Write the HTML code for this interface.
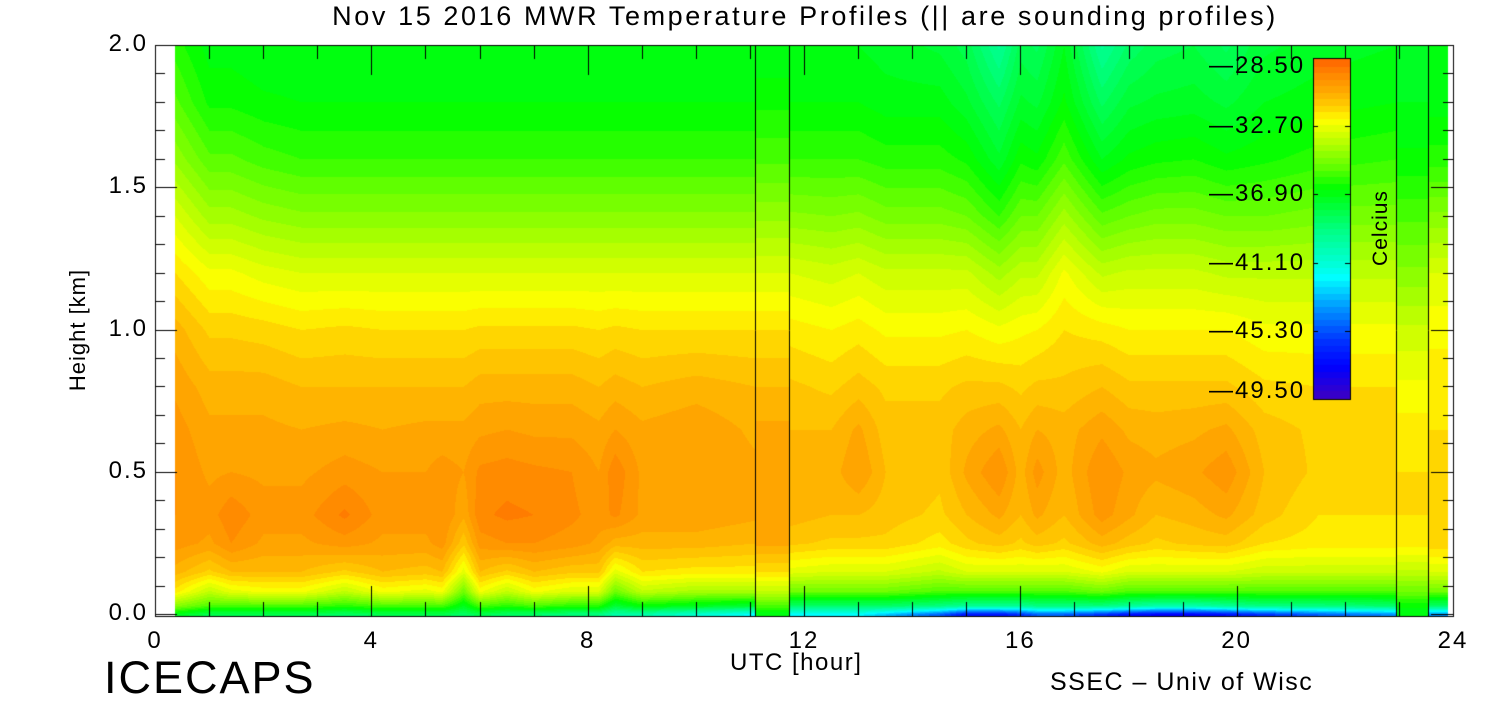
<!DOCTYPE html>
<html><head><meta charset="utf-8">
<style>
body{margin:0;background:#fff;width:1500px;height:700px;overflow:hidden;position:relative;font-family:"Liberation Sans",sans-serif}
.t{position:absolute;color:#000;white-space:nowrap}
canvas{position:absolute;left:0;top:0}
</style></head><body>
<canvas id="c" width="1500" height="700"></canvas>
<div class="t" style="left:0;width:1610px;text-align:center;top:1px;font-size:27px;letter-spacing:2.6px">Nov 15 2016 MWR Temperature Profiles (||  are sounding profiles)</div>
<div class="t" style="left:-2px;top:317px;font-size:22px;letter-spacing:1px;transform:rotate(-90deg);transform-origin:center;width:160px;text-align:center">Height [km]</div>
<div class="t" style="left:730px;top:649px;font-size:24px;letter-spacing:1.5px">UTC [hour]</div>
<div class="t" style="left:104px;top:652px;font-size:45px;letter-spacing:2px">ICECAPS</div>
<div class="t" style="left:1050px;top:668px;font-size:25px;letter-spacing:1.5px">SSEC – Univ of Wisc</div>
<div class="t" style="left:1341px;top:216px;font-size:21px;letter-spacing:1px;transform:rotate(-90deg);transform-origin:center;width:80px;text-align:center">Celcius</div>
<div id="labels"></div>
<script>
const heights=[0,0.03,0.08,0.15,0.25,0.35,0.5,0.65,0.8,1.0,1.2,1.4,1.6,1.8,2.0];
const timesL=[0.37,1.0,1.4,2.0,2.7,3.5,4.2,5.0,5.3,5.7,6.0,6.5,7.0,7.7,8.2,8.5,9.0,10.0,11.1];
const tempsL=[
[-37,-34.5,-32,-30.8,-30,-29.8,-29.8,-30,-30.3,-30.8,-31.8,-33,-34.3,-35.3,-36],
[-38,-35.5,-33.5,-31.5,-30.3,-30,-30.3,-30.5,-30.8,-31.5,-32.5,-34,-35.3,-36.3,-36.8],
[-38,-35.5,-32.8,-31,-29.8,-29.5,-30.2,-30.5,-30.8,-31.5,-32.5,-34,-35.3,-36.3,-36.8],
[-38,-35.5,-32.5,-31,-30.3,-30,-30.3,-30.5,-30.8,-31.6,-32.8,-34.3,-35.6,-36.5,-37],
[-38,-35.5,-32.5,-31,-30.3,-30,-30.3,-30.6,-31,-31.8,-33,-34.5,-35.8,-36.6,-37],
[-38.5,-36,-33.5,-31.5,-30,-29.3,-30,-30.5,-31,-31.7,-33,-34.5,-35.8,-36.6,-37],
[-38,-35.5,-32.5,-31,-30.3,-30,-30.2,-30.6,-31,-31.8,-33,-34.5,-35.8,-36.6,-37],
[-38,-35.5,-32.8,-31.2,-30.3,-30,-30.2,-30.5,-31,-31.8,-33,-34.5,-35.8,-36.6,-37],
[-38,-35.5,-32.5,-31,-30,-29.8,-30,-30.5,-31,-31.8,-33,-34.5,-35.8,-36.6,-37],
[-38.5,-37,-35,-32.8,-31.3,-30.5,-30.2,-30.5,-31,-31.8,-33,-34.5,-35.8,-36.6,-37],
[-38,-35.5,-32.5,-31,-30,-29.5,-29.7,-30.3,-30.8,-31.7,-33,-34.5,-35.8,-36.6,-37],
[-38.5,-36,-33.5,-31.5,-29.8,-29.3,-29.6,-30.2,-30.8,-31.7,-33,-34.5,-35.8,-36.6,-37],
[-38.5,-35.5,-32.5,-31,-29.8,-29.4,-29.7,-30.3,-30.8,-31.7,-33,-34.5,-35.8,-36.6,-37],
[-39,-36,-33,-31.3,-30,-29.7,-29.8,-30.3,-30.8,-31.7,-33,-34.5,-35.8,-36.6,-37],
[-39,-36,-33,-31.3,-30.3,-30,-30.2,-30.5,-31,-31.8,-33,-34.5,-35.8,-36.6,-37],
[-40,-37.5,-35,-32.8,-30.8,-29.7,-29.5,-30.2,-30.8,-31.7,-33,-34.5,-35.8,-36.6,-37],
[-40,-36.5,-33.5,-31.8,-30.8,-30.3,-30.3,-30.5,-31,-31.8,-33,-34.5,-35.8,-36.6,-37],
[-41,-37,-34,-32,-30.8,-30.3,-30.2,-30.3,-30.8,-31.8,-33,-34.5,-35.8,-36.6,-37],
[-42,-37.5,-34,-32,-31,-30.5,-30.5,-30.7,-31,-31.8,-33,-34.5,-35.8,-36.6,-37]];
const timesR=[11.73,12.5,13.0,13.5,14.5,15.0,15.6,16.0,16.3,16.8,17.5,18.0,18.5,19.2,19.8,20.5,21.5,22.95];
const tempsR=[
[-42,-38.5,-35,-32.8,-31.3,-30.8,-30.8,-31,-31.3,-32,-33,-34.5,-35.8,-36.6,-37],
[-42,-38.5,-35,-33,-31.5,-31,-30.8,-31,-31.5,-32.2,-33.2,-34.6,-35.8,-36.6,-37],
[-42,-38.5,-35,-33,-31.5,-31,-30.2,-30.5,-31.2,-32,-33,-34.5,-35.8,-36.6,-37],
[-43,-38.5,-35,-33,-31.5,-31.2,-31,-31.2,-31.5,-32.3,-33.3,-34.8,-36,-36.8,-37.2],
[-45,-39,-35.5,-33.5,-32,-31.5,-31.3,-31.2,-31.5,-32.3,-33.3,-34.8,-36,-36.8,-37.5],
[-47,-39.5,-35.5,-33,-31.5,-31,-30.5,-30.8,-31.3,-32.2,-33.3,-35,-36.3,-37.3,-38],
[-47,-39.5,-35.5,-33,-31.2,-30.5,-29.8,-30.5,-31.3,-32.5,-34,-35.8,-37.3,-38.3,-39.5],
[-46,-39.5,-35.5,-33,-31.5,-31,-30.8,-31,-31.5,-32.3,-33.5,-35,-36.3,-37.3,-38],
[-45,-39,-35.5,-33,-31.2,-30.5,-30,-30.6,-31.3,-32.2,-33.5,-35,-36.5,-37.5,-38.3],
[-45,-39,-35.5,-33,-31.5,-31,-30.8,-30.8,-31.3,-31.8,-32.5,-34,-35.5,-36.5,-37],
[-46,-39,-35,-32.5,-30.8,-30,-29.8,-30.3,-31,-32,-33.5,-35.3,-37,-38.3,-39.5],
[-47,-39.5,-35.5,-33,-31.2,-30.5,-30.3,-30.7,-31.3,-32.2,-33.3,-35,-36.5,-37.5,-38.5],
[-47.5,-40,-35.5,-33,-31.5,-31,-30.5,-30.8,-31.3,-32.2,-33.3,-34.8,-36.3,-37.3,-38],
[-47.5,-40,-35.5,-33,-31.3,-30.8,-30.3,-30.7,-31.3,-32.2,-33.3,-34.8,-36.2,-37.2,-37.8],
[-47,-39.5,-35.5,-33,-31.2,-30.5,-29.9,-30.5,-31.3,-32.2,-33.5,-35,-36.5,-37.5,-38.3],
[-46,-39,-35.5,-33.3,-31.8,-31.2,-31,-31.2,-31.7,-32.5,-33.5,-35,-36.3,-37,-37.5],
[-45,-39,-35.5,-33.3,-32,-31.8,-31.5,-31.5,-31.8,-32.5,-33.5,-34.8,-36,-36.8,-37.2],
[-44,-38.5,-35.5,-33.3,-32,-31.8,-31.5,-31.5,-31.8,-32.5,-33.5,-34.8,-35.8,-36.6,-37]];
const sounding1=[-37,-35.5,-33.5,-31.8,-30.5,-30.3,-30.3,-30.5,-31,-31.8,-33,-34.3,-35.5,-36.3,-37];
const sounding1Span=[11.1,11.73];
const sounding2=[-37,-36.5,-35,-33.5,-32,-31.8,-31.8,-32,-32.5,-33.3,-34.5,-35.5,-36.5,-37,-37.3];
const sounding2Span=[22.95,23.54];
const lastProfile=[-44,-38.5,-35,-33,-31.5,-31.5,-31.5,-31.8,-32,-32.3,-33,-34.5,-36,-36.8,-37];
const lastSpan=[23.54,23.9];
const yTicks=["0.0","0.5","1.0","1.5","2.0"];
const xTicks=["0","4","8","12","16","20","24"];
const cbTicks=["-28.50","-32.70","-36.90","-41.10","-45.30","-49.50"];

const X0=155,X1=1453,Y0=45,Y1=616;
const xs=h=>X0+h/24*(X1-X0);
const ys=k=>614-k*284.5;
const stops=[[-28.5,255,96,0],[-29.5,255,136,0],[-30.5,255,168,0],[-31.5,255,208,0],[-32.3,255,255,0],[-33.8,176,255,0],[-35.2,96,255,0],[-36.5,0,255,0],[-39,0,255,128],[-41,0,255,208],[-42,0,255,255],[-44,0,144,255],[-46,0,48,255],[-47.5,0,0,255],[-49.5,64,0,192]];
function col(t){t=Math.round(t*2.5)/2.5;
 if(t>=stops[0][0])return stops[0].slice(1);
 for(let i=1;i<stops.length;i++){if(t>=stops[i][0]){const a=stops[i-1],b=stops[i],f=(t-b[0])/(a[0]-b[0]);return [b[1]+(a[1]-b[1])*f,b[2]+(a[2]-b[2])*f,b[3]+(a[3]-b[3])*f];}}
 return stops[stops.length-1].slice(1);}
function prof(p,k){if(k<=0)return p[0];for(let i=1;i<heights.length;i++){if(k<=heights[i]){const f=(k-heights[i-1])/(heights[i]-heights[i-1]);return p[i-1]+(p[i]-p[i-1])*f;}}return p[p.length-1];}
const c=document.getElementById('c'),g=c.getContext('2d');
const img=g.createImageData(1500,700),d=img.data;
function put(x,y,rgb){const o=(y*1500+x)*4;d[o]=rgb[0];d[o+1]=rgb[1];d[o+2]=rgb[2];d[o+3]=255;}
function seg(times,temps){for(let x=Math.round(xs(times[0]));x<Math.round(xs(times[times.length-1]));x++){const h=(x-X0)/(X1-X0)*24;let j=0;while(j<times.length-2&&h>times[j+1])j++;const f=Math.min(1,Math.max(0,(h-times[j])/(times[j+1]-times[j])));
 for(let y=Y0;y<Y1;y++){const k=(614-y)/284.5;put(x,y,col(prof(temps[j],k)*(1-f)+prof(temps[j+1],k)*f));}}}
function strip(span,p){for(let x=Math.round(xs(span[0]));x<Math.round(xs(span[1]));x++)for(let y=Y0;y<Y1;y++)put(x,y,col(prof(p,(614-y)/284.5)));}
seg(timesL,tempsL);seg(timesR,tempsR);strip(sounding1Span,sounding1);strip(sounding2Span,sounding2);strip(lastSpan,lastProfile);
for(let y=58;y<399;y++){const t=-28.5-(y-58)/341*21;for(let x=1313;x<1350;x++)put(x,y,col(t));}
g.putImageData(img,0,0);
g.strokeStyle='#000';g.lineWidth=1;
g.strokeRect(X0+0.5,Y0+0.5,X1-X0,Y1-Y0);
g.strokeRect(1313.5,58.5,37,341);
[sounding1Span[0],sounding1Span[1],sounding2Span[0],sounding2Span[1]].forEach(h=>{const x=Math.round(xs(h))+0.5;g.beginPath();g.moveTo(x,Y0);g.lineTo(x,Y1);g.stroke();});
g.beginPath();
for(let h=0;h<=24;h++){const x=Math.round(xs(h))+0.5,L=h%4==0?30:14;g.moveTo(x,Y1);g.lineTo(x,Y1-L);g.moveTo(x,Y0);g.lineTo(x,Y0+L);}
for(let i=0;i<=20;i++){const y=Math.round(ys(i/10))+0.5,L=i%5==0?22:10;g.moveTo(X0,y);g.lineTo(X0+L,y);g.moveTo(X1,y);g.lineTo(X1-L,y);}
for(let i=0;i<cbTicks.length;i++){const y=Math.round(58+i*341/5)+0.5;g.moveTo(1313,y);g.lineTo(1318,y);g.moveTo(1350,y);g.lineTo(1345,y);}
g.stroke();
const lab=document.getElementById('labels');
yTicks.forEach((s,i)=>{const e=document.createElement('div');e.className='t';


e.style.cssText=`left:96px;top:${ys(i*0.5)-15}px;font-size:24px;letter-spacing:2px;width:52px;text-align:right`;e.textContent=s;lab.appendChild(e);});
xTicks.forEach((s,i)=>{const e=document.createElement('div');e.className='t';


e.style.cssText=`left:${xs(i*4)-40}px;top:627px;font-size:24px;letter-spacing:2px;width:80px;text-align:center`;e.textContent=s;lab.appendChild(e);});
cbTicks.forEach((s,i)=>{const e=document.createElement('div');e.className='t';


e.style.cssText=`left:1209px;top:${58+i*341/5-14+(i==0?8:0)-(i==5?8:0)}px;font-size:24px;letter-spacing:2px`;e.textContent=s.replace('-','—');lab.appendChild(e);});
</script>
</body></html>
